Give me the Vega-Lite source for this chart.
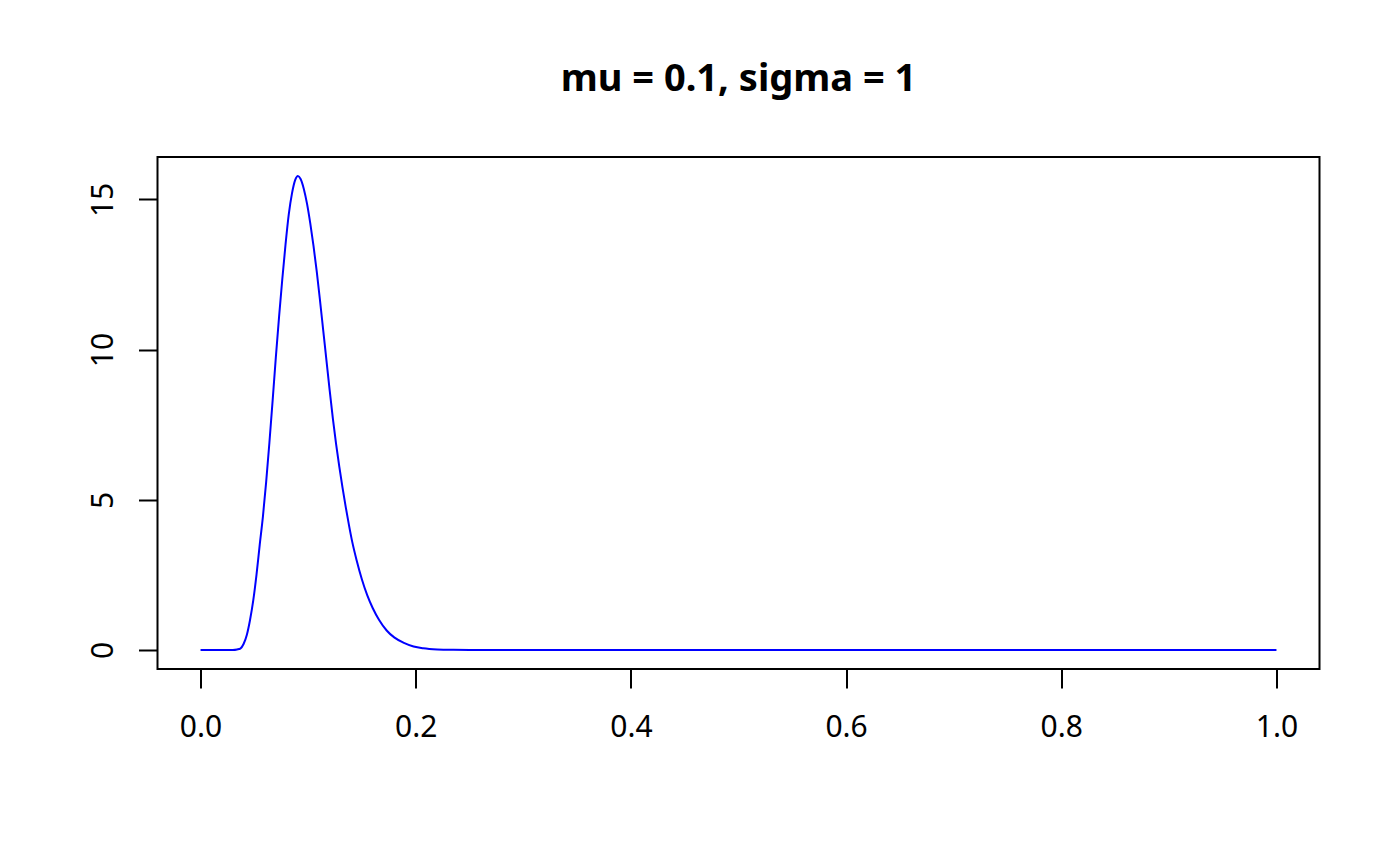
{
  "$schema": "https://vega.github.io/schema/vega-lite/v6.json",
  "description": "Density curve, mu = 0.1, sigma = 1, drawn in the style of a base R plot.",
  "width": 1162,
  "height": 512,
  "autosize": {"type": "none"},
  "padding": {"left": 157.5, "top": 157, "right": 80.5, "bottom": 197},
  "background": "white",
  "title": {
    "text": "mu = 0.1, sigma = 1",
    "font": "Noto Sans",
    "fontSize": 38,
    "fontWeight": "bold",
    "color": "black",
    "anchor": "middle",
    "baseline": "alphabetic",
    "offset": 28
  },
  "data": {
    "values": [
      {"x": 0, "density": 0},
      {"x": 0.01, "density": 0},
      {"x": 0.02, "density": 0},
      {"x": 0.03, "density": 0.003},
      {"x": 0.034, "density": 0.02},
      {"x": 0.037, "density": 0.05},
      {"x": 0.04, "density": 0.2},
      {"x": 0.043, "density": 0.5},
      {"x": 0.046, "density": 1.0},
      {"x": 0.049, "density": 1.65},
      {"x": 0.052, "density": 2.5},
      {"x": 0.055, "density": 3.5},
      {"x": 0.058, "density": 4.45},
      {"x": 0.061, "density": 5.6},
      {"x": 0.064, "density": 6.9},
      {"x": 0.067, "density": 8.3},
      {"x": 0.07, "density": 9.75},
      {"x": 0.073, "density": 11.1},
      {"x": 0.076, "density": 12.35},
      {"x": 0.079, "density": 13.5},
      {"x": 0.082, "density": 14.5},
      {"x": 0.085, "density": 15.2},
      {"x": 0.088, "density": 15.65},
      {"x": 0.0905, "density": 15.78},
      {"x": 0.093, "density": 15.68},
      {"x": 0.096, "density": 15.35},
      {"x": 0.099, "density": 14.85},
      {"x": 0.102, "density": 14.2},
      {"x": 0.105, "density": 13.45},
      {"x": 0.108, "density": 12.6},
      {"x": 0.111, "density": 11.65},
      {"x": 0.114, "density": 10.65},
      {"x": 0.117, "density": 9.65},
      {"x": 0.12, "density": 8.65},
      {"x": 0.123, "density": 7.7},
      {"x": 0.126, "density": 6.85},
      {"x": 0.129, "density": 6.1},
      {"x": 0.132, "density": 5.4},
      {"x": 0.135, "density": 4.75},
      {"x": 0.138, "density": 4.15},
      {"x": 0.141, "density": 3.6},
      {"x": 0.145, "density": 3.0},
      {"x": 0.15, "density": 2.35},
      {"x": 0.155, "density": 1.82},
      {"x": 0.16, "density": 1.4},
      {"x": 0.166, "density": 1.0},
      {"x": 0.173, "density": 0.65},
      {"x": 0.18, "density": 0.42},
      {"x": 0.189, "density": 0.24},
      {"x": 0.198, "density": 0.12},
      {"x": 0.207, "density": 0.06},
      {"x": 0.22, "density": 0.02},
      {"x": 0.235, "density": 0.006},
      {"x": 0.25, "density": 0.002},
      {"x": 0.28, "density": 0},
      {"x": 0.4, "density": 0},
      {"x": 0.5, "density": 0},
      {"x": 0.6, "density": 0},
      {"x": 0.7, "density": 0},
      {"x": 0.8, "density": 0},
      {"x": 0.9, "density": 0},
      {"x": 1, "density": 0}
    ]
  },
  "mark": {"type": "line", "color": "#0000ff", "strokeWidth": 2, "interpolate": "monotone"},
  "encoding": {
    "x": {
      "field": "x",
      "type": "quantitative",
      "title": null,
      "scale": {"domain": [-0.04, 1.04], "nice": false, "zero": false},
      "axis": {
        "values": [0, 0.2, 0.4, 0.6, 0.8, 1],
        "format": ".1f",
        "labelPadding": 48,
        "labelBaseline": "alphabetic",
        "labelFlush": false
      }
    },
    "y": {
      "field": "density",
      "type": "quantitative",
      "title": null,
      "scale": {"domain": [-0.6312, 16.4112], "nice": false, "zero": false},
      "axis": {
        "values": [0, 5, 10, 15],
        "format": "d",
        "labelAngle": 270,
        "labelAlign": "center",
        "labelBaseline": "alphabetic",
        "labelPadding": 26,
        "labelFlush": false
      }
    }
  },
  "config": {
    "view": {"stroke": "black", "strokeWidth": 2},
    "axis": {
      "domain": false,
      "grid": false,
      "ticks": true,
      "tickColor": "black",
      "tickWidth": 2,
      "tickSize": 19,
      "labelFont": "Noto Sans",
      "labelFontSize": 30,
      "labelColor": "black",
      "labelOverlap": false
    }
  }
}
